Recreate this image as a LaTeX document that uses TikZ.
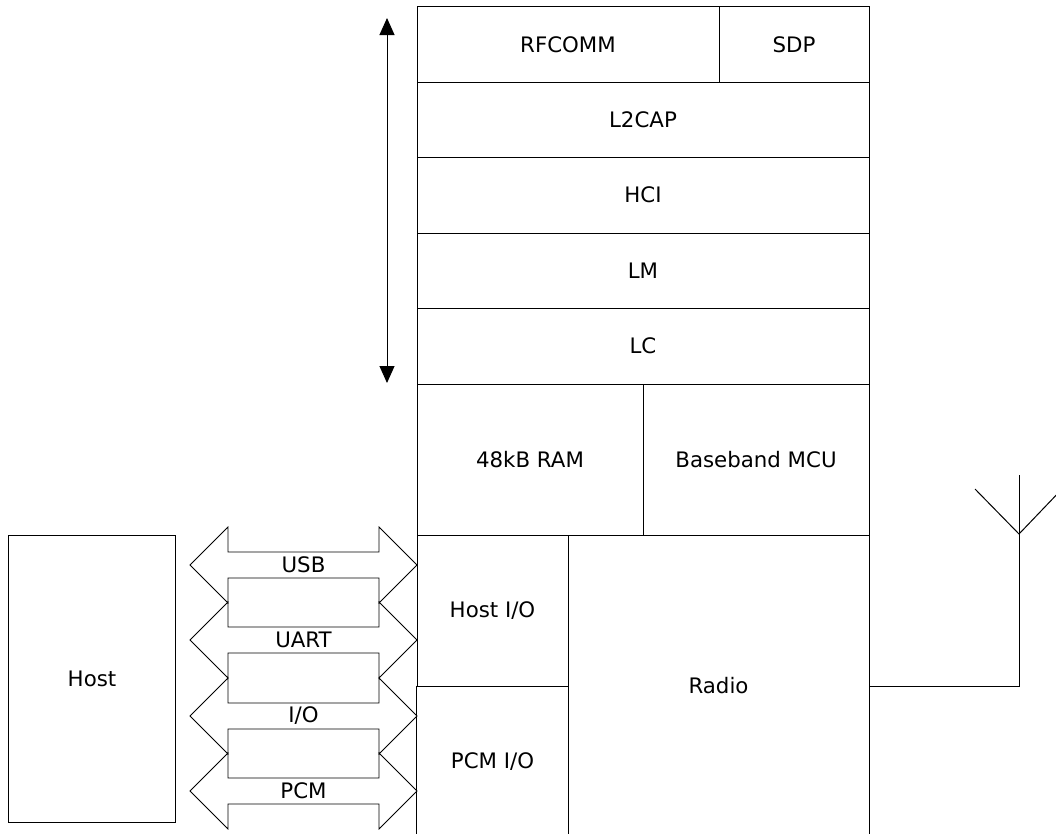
\documentclass[tikz,border=0pt]{standalone}
\usepackage{fontspec}
\setmainfont{DejaVu Sans}
\usetikzlibrary{arrows.meta}
\newcommand\lblfont{\fontsize{21.4}{25}\selectfont}
\begin{document}
\begin{tikzpicture}[x=1bp,y=-1bp,line width=1bp,
  cell/.style={draw,inner sep=0pt,font=\lblfont},
  opencell/.style={inner sep=0pt,font=\lblfont},
  buslabel/.style={inner sep=0pt,font=\lblfont},
  bus/.style={draw,line width=0.8bp},
  tip/.style={{Triangle[length=17bp,width=15bp]}-{Triangle[length=17bp,width=15bp]}}]
\useasboundingbox (0,0) rectangle (1056,834);
% protocol stack
\node[cell,minimum width=302bp,minimum height=75bp] (rfcomm) at (568,44.5) {RFCOMM};
\node[cell,minimum width=150bp,minimum height=75bp] (sdp) at (794,44.5) {SDP};
\node[cell,minimum width=452bp,minimum height=75bp] (l2cap) at (643,119.5) {L2CAP};
\node[cell,minimum width=452bp,minimum height=76bp] (hci) at (643,195) {HCI};
\node[cell,minimum width=452bp,minimum height=75bp] (lm) at (643,270.5) {LM};
\node[cell,minimum width=452bp,minimum height=76bp] (lc) at (643,346) {LC};
\node[cell,minimum width=226bp,minimum height=151bp] (ram) at (530,459.5) {48kB RAM};
\node[cell,minimum width=226bp,minimum height=151bp] (mcu) at (756,459.5) {Baseband MCU};
\node[cell,minimum width=151bp,minimum height=151bp] (hostio) at (492.5,610.5) {Host I/O};
\node[opencell,minimum width=151bp,minimum height=151bp] (pcmio) at (492.5,761.5) {PCM I/O};
\node[opencell,minimum width=301bp,minimum height=302bp] (radio) at (718.5,686) {Radio};
\draw (pcmio.north west) -- (pcmio.south west);
\draw (pcmio.north east) -- (pcmio.south east);
\draw (radio.north east) -- (radio.south east);
% host
\node[cell,minimum width=166bp,minimum height=287bp] (host) at (92,678.5) {Host};
% double arrows
\foreach \c/\t/\n in {565/USB/usb,640/UART/uart,716/I\slash O/io,791/PCM/pcm}{
  \draw[bus] (190,\c) -- (228,\c-38) -- (228,\c-13) -- (379,\c-13) -- (379,\c-38)
    -- (417,\c) -- (379,\c+38) -- (379,\c+13) -- (228,\c+13) -- (228,\c+38) -- cycle;
  \node[buslabel] (\n) at (303.5,\c) {\t};
}
% vertical arrow
\coordinate (atop) at (387,18);
\coordinate (abot) at (387,383);
\draw[tip] (atop) -- (abot);
% antenna
\coordinate (antbase) at (1019,534);
\coordinate (anttop) at (1019,475);
\coordinate (armL) at (975,489);
\coordinate (armR) at (1063,488);
\draw (radio.east) -| (antbase) -- (anttop);
\draw (armL) -- (antbase) -- (armR);
\end{tikzpicture}
\end{document}
